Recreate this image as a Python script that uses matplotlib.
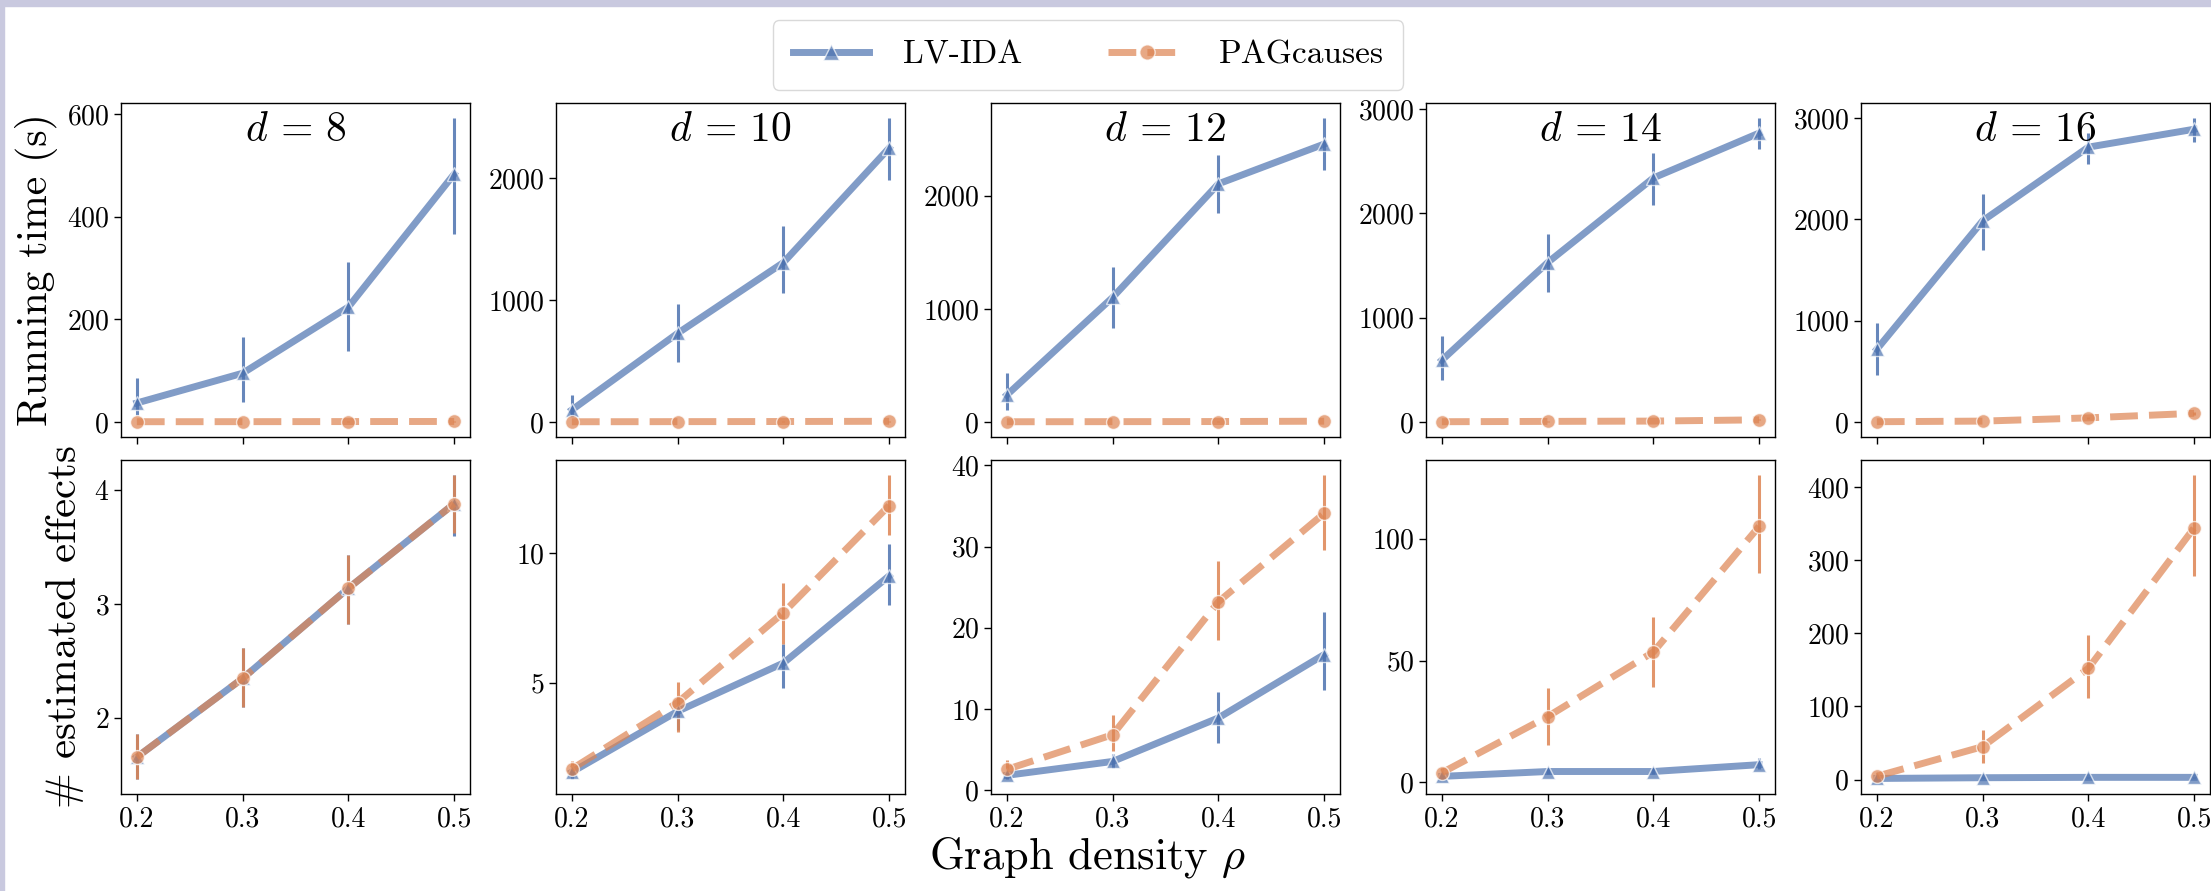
import numpy as np
import matplotlib
matplotlib.use("Agg")
import matplotlib.pyplot as plt
from matplotlib.patches import Rectangle

plt.rcParams['font.family'] = 'serif'
plt.rcParams['font.serif'] = ['cmr10']
plt.rcParams['mathtext.fontset'] = 'cm'
plt.rcParams['axes.formatter.use_mathtext'] = True
plt.rcParams['axes.unicode_minus'] = False

# Graph density values and number of nodes
rho = [0.2, 0.3, 0.4, 0.5]
dims = [8, 10, 12, 14, 16]

# Running time (s): mean, lower, upper per d
rt_lv = [[37, 95, 224, 483], [98, 726, 1306, 2245], [238, 1101, 2106, 2458],
         [592, 1528, 2340, 2770], [718, 1986, 2714, 2891]]
rt_lv_lo = [[14, 39, 138, 367], [40, 490, 1053, 1984], [106, 828, 1850, 2229],
            [401, 1242, 2082, 2617], [462, 1701, 2547, 2763]]
rt_lv_hi = [[85, 165, 311, 592], [220, 963, 1608, 2490], [432, 1374, 2361, 2687],
            [821, 1805, 2579, 2913], [973, 2252, 2852, 3000]]
rt_pag = [[0.5, 0.6, 0.8, 1.0], [1, 2, 3, 5], [1, 2, 3, 6],
          [2, 5, 8, 20], [2, 8, 40, 85]]
rt_pag_lo = [[0.3, 0.4, 0.5, 0.7], [0.5, 1, 2, 3], [0.5, 1, 2, 4],
             [1, 3, 5, 14], [1, 5, 30, 70]]
rt_pag_hi = [[0.7, 0.8, 1.1, 1.4], [1.5, 3, 4, 7], [1.5, 3, 4, 8],
             [3, 7, 11, 26], [3, 11, 50, 100]]

# Number of estimated effects: mean, lower, upper per d
eff_lv = [[1.66, 2.35, 3.14, 3.88], [1.56, 3.9, 5.76, 9.12], [1.83, 3.54, 8.9, 16.7],
          [2.5, 4.5, 4.5, 7.3], [1.5, 2.5, 3.0, 3.0]]
eff_lv_lo = [[1.47, 2.10, 2.83, 3.60], [1.3, 3.2, 4.8, 7.98], [1.4, 2.7, 5.85, 12.4],
             [1.5, 3.5, 3.5, 5.5], [1.0, 2.0, 2.4, 2.4]]
eff_lv_hi = [[1.86, 2.62, 3.43, 4.13], [1.8, 4.5, 6.5, 10.35], [2.3, 4.5, 12.1, 22.0],
             [3.5, 6.0, 6.0, 10.0], [2.0, 3.0, 3.6, 3.6]]
eff_pag = [[1.66, 2.35, 3.14, 3.88], [1.68, 4.24, 7.7, 11.83], [2.56, 6.83, 23.2, 34.1],
           [4, 27, 53.5, 105], [4.5, 45, 152, 344]]
eff_pag_lo = [[1.47, 2.10, 2.83, 3.62], [1.4, 3.09, 6.5, 10.7], [1.5, 4.8, 18.5, 29.6],
              [2, 15.5, 39, 86], [2, 23, 112, 278]]
eff_pag_hi = [[1.86, 2.62, 3.43, 4.13], [2.0, 5.04, 8.85, 13.0], [3.7, 9.3, 28.2, 38.8],
              [6, 38.8, 68, 126], [7, 68, 197, 416]]

blue = '#4C72B0'
orange = '#DD8452'

W, H = 2211, 891
fig = plt.figure(figsize=(W / 100, H / 100), dpi=100)

# screenshot frame
fig.patches.append(Rectangle((0, 1 - 6 / H), 1, 6 / H, transform=fig.transFigure,
                             color='#c9c9df', zorder=0))
fig.patches.append(Rectangle((0, 0), 4 / W, 1, transform=fig.transFigure,
                             color='#c9c9df', zorder=0))

lefts = [121, 556, 991, 1426, 1861]
aw = 349
rows = [(103, 437), (460, 794)]


def draw(ax, mean, lo, hi, color, marker, ls, label):
    mean = np.array(mean)
    yerr = [mean - np.array(lo), np.array(hi) - mean]
    ax.errorbar(rho, mean, yerr=yerr, fmt='none', ecolor=color, elinewidth=2.2,
                alpha=0.85, zorder=2)
    ax.plot(rho, mean, color=color, lw=5, ls=ls, marker=marker, markersize=10,
            markeredgecolor='white', markeredgewidth=1, alpha=0.7, label=label,
            dashes=(4, 1.6) if ls == '--' else (None, None), zorder=3)


axes = []
for r, (top, bot) in enumerate(rows):
    for c, d in enumerate(dims):
        ax = fig.add_axes([lefts[c] / W, 1 - bot / H, aw / W, (bot - top) / H])
        if r == 0:
            draw(ax, rt_lv[c], rt_lv_lo[c], rt_lv_hi[c], blue, '^', '-', 'LV-IDA')
            draw(ax, rt_pag[c], rt_pag_lo[c], rt_pag_hi[c], orange, 'o', '--', 'PAGcauses')
            ax.text(0.5, 0.975, r'$d \,=\, %d$' % d, transform=ax.transAxes,
                    ha='center', va='top', fontsize=30)
            ax.set_xticklabels([])
        else:
            draw(ax, eff_lv[c], eff_lv_lo[c], eff_lv_hi[c], blue, '^', '-', 'LV-IDA')
            draw(ax, eff_pag[c], eff_pag_lo[c], eff_pag_hi[c], orange, 'o', '--', 'PAGcauses')
        ax.set_xticks(rho)
        if r == 1:
            ax.set_xticklabels(['0.2', '0.3', '0.4', '0.5'])
        ax.tick_params(labelsize=20, length=5, width=1, direction='out')
        for s in ax.spines.values():
            s.set_linewidth(1)
            s.set_color('black')
        axes.append(ax)

axes[0].set_yticks([0, 200, 400, 600])
axes[1].set_yticks([0, 1000, 2000])
axes[2].set_yticks([0, 1000, 2000])
axes[3].set_yticks([0, 1000, 2000, 3000])
axes[4].set_yticks([0, 1000, 2000, 3000])
axes[5].set_yticks([2, 3, 4])
axes[6].set_yticks([5, 10])
axes[7].set_yticks([0, 10, 20, 30, 40])
axes[8].set_yticks([0, 50, 100])
axes[9].set_yticks([0, 100, 200, 300, 400])

axes[0].set_ylabel('Running time (s)', fontsize=30, labelpad=6)
axes[5].set_ylabel(r'$\#$ estimated effects', fontsize=31, labelpad=6)
fig.text(1088 / W, 1 - 857 / H, r'Graph density $\rho$', ha='center', va='center',
         fontsize=32)

handles, labels = axes[0].get_legend_handles_labels()
fig.legend(handles, labels, loc='center', bbox_to_anchor=(1088 / W, 1 - 55 / H),
           ncol=2, fontsize=24, handlelength=2.3, columnspacing=2.6,
           handletextpad=1.0, frameon=True, fancybox=True, edgecolor='#d0d0d0',
           borderpad=0.6, markerscale=1.1)

fig.savefig('out.png', dpi=100)
